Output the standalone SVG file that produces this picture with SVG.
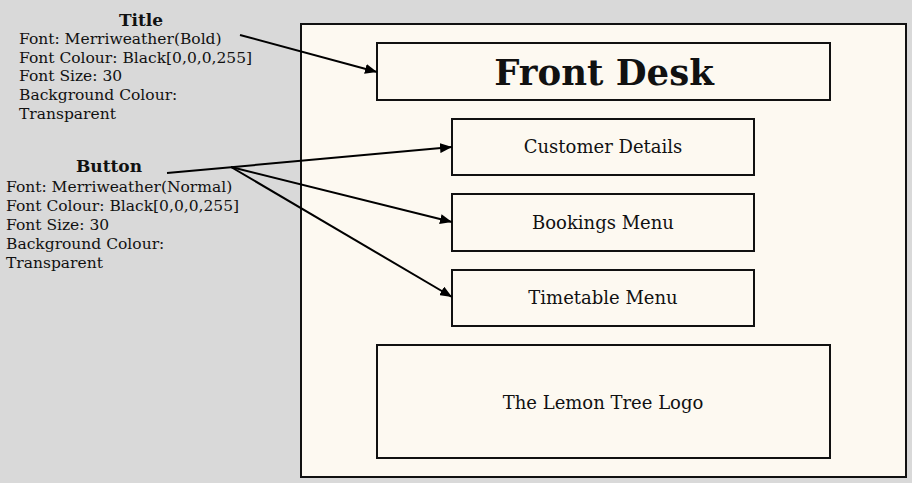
<svg xmlns="http://www.w3.org/2000/svg" width="912" height="483" viewBox="0 0 912 483">
<defs>
<marker id="ah" viewBox="0 0 12 10" refX="12" refY="5" markerWidth="12" markerHeight="10" markerUnits="userSpaceOnUse" orient="auto">
<path d="M0,0 L12,5 L0,10 z" fill="#000"/>
</marker>
<style>
.bg{fill:#d9d9d9}
.box{fill:#fdf9f1;stroke:#111;stroke-width:2}
.t{font-family:"DejaVu Serif","Liberation Serif",serif;fill:#111}
.note{font-size:15.5px}
.head{font-size:17px;font-weight:bold;text-anchor:middle}
.lbl{font-size:18px;text-anchor:middle}
.big{font-size:35.5px;font-weight:bold;text-anchor:middle}
.conn{stroke:#000;stroke-width:2;fill:none}
</style>
</defs>
<rect class="bg" x="0" y="0" width="912" height="483"/>
<g id="frame"><rect class="box" x="301" y="24" width="605" height="453"/></g>
<g id="title-box"><rect class="box" x="377" y="43" width="453" height="57"/><text class="t big" x="604" y="85">Front Desk</text></g>
<g id="customer-details"><rect class="box" x="452" y="119" width="302" height="56"/><text class="t lbl" x="603" y="153">Customer Details</text></g>
<g id="bookings-menu"><rect class="box" x="452" y="194" width="302" height="57"/><text class="t lbl" x="603" y="229">Bookings Menu</text></g>
<g id="timetable-menu"><rect class="box" x="452" y="270" width="302" height="56"/><text class="t lbl" x="603" y="304">Timetable Menu</text></g>
<g id="logo"><rect class="box" x="377" y="345" width="453" height="113"/><text class="t lbl" x="603" y="409">The Lemon Tree Logo</text></g>
<g id="title-note">
<text class="t head" x="141" y="26">Title</text>
<text class="t note" x="19" y="44">Font: Merriweather(Bold)</text>
<text class="t note" x="19" y="63">Font Colour: Black[0,0,0,255]</text>
<text class="t note" x="19" y="81">Font Size: 30</text>
<text class="t note" x="19" y="100">Background Colour:</text>
<text class="t note" x="19" y="119">Transparent</text>
</g>
<g id="button-note">
<text class="t head" x="109" y="172">Button</text>
<text class="t note" x="6" y="192">Font: Merriweather(Normal)</text>
<text class="t note" x="6" y="211">Font Colour: Black[0,0,0,255]</text>
<text class="t note" x="6" y="230">Font Size: 30</text>
<text class="t note" x="6" y="249">Background Colour:</text>
<text class="t note" x="6" y="268">Transparent</text>
</g>
<g id="connectors">
<line class="conn" x1="240" y1="35" x2="377" y2="72" marker-end="url(#ah)"/>
<line class="conn" x1="167" y1="173" x2="452" y2="147" marker-end="url(#ah)"/>
<line class="conn" x1="231" y1="167" x2="452" y2="222" marker-end="url(#ah)"/>
<line class="conn" x1="231" y1="167" x2="452" y2="297" marker-end="url(#ah)"/>
</g>
</svg>
